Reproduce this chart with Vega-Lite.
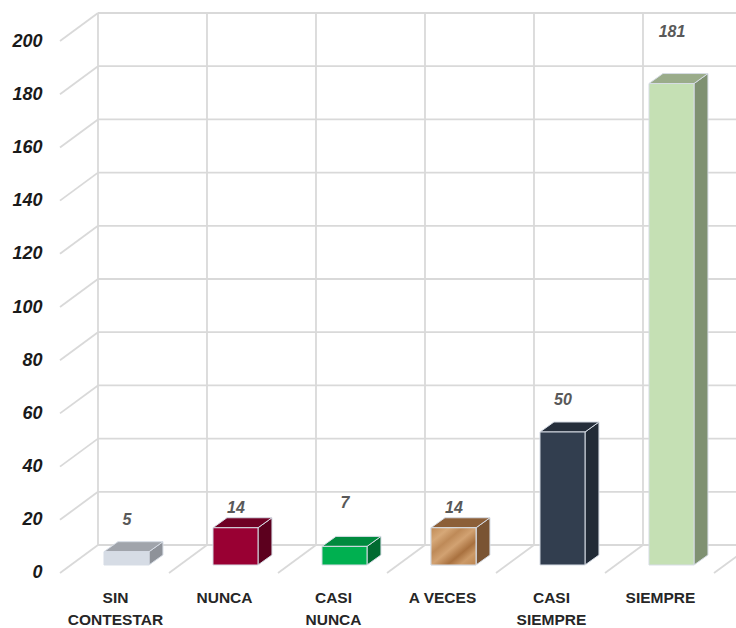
{
"$schema":"https://vega.github.io/schema/vega-lite/v6.json",
"width":736,"height":628,"padding":0,"autosize":{"type":"none"},"background":"#FFFFFF",
"config":{"view":{"stroke":null}},
"datasets":{
"bars":[
{"category":"SIN CONTESTAR","value":5,"idx":0},
{"category":"NUNCA","value":14,"idx":1},
{"category":"CASI NUNCA","value":7,"idx":2},
{"category":"A VECES","value":14,"idx":3},
{"category":"CASI SIEMPRE","value":50,"idx":4},
{"category":"SIEMPRE","value":181,"idx":5}],
"ticks":[{"v":0},{"v":20},{"v":40},{"v":60},{"v":80},{"v":100},{"v":120},{"v":140},{"v":160},{"v":180},{"v":200}],
"cols":[{"i":0},{"i":1},{"i":2},{"i":3},{"i":4},{"i":5},{"i":6}]
},
"encoding":{
"x":{"field":"ax","type":"quantitative","title":null,"scale":{"domain":[-1.05505,5.69725],"nice":false,"zero":false},
"axis":{"orient":"bottom","offset":-38,"values":[0,1,2,3,4,5],"grid":false,"domain":false,"ticks":false,"labelPadding":0,"labelFont":"Liberation Sans","labelFontWeight":"bold","labelFontSize":15.5,"labelColor":"#262626","labelBaseline":"top","labelAlign":"center","labelLineHeight":22.5,"labelOverlap":false,"labelFlush":false,"labelBound":false,
"labelExpr":"[['SIN','CONTESTAR'],['NUNCA'],['CASI','NUNCA'],['A VECES'],['CASI','SIEMPRE'],['SIEMPRE']][datum.value]"}},
"y":{"field":"ay","type":"quantitative","title":null,"stack":null,"scale":{"domain":[-20.677,215.414],"nice":false,"zero":false},
"axis":{"orient":"left","offset":-42,"values":[0,20,40,60,80,100,120,140,160,180,200],"grid":false,"domain":false,"ticks":false,"labelPadding":0,"labelFont":"Liberation Sans","labelFontWeight":"bold","labelFontStyle":"italic","labelFontSize":18,"labelColor":"#1A1A1A","labelAlign":"right","labelBaseline":"middle","labelOverlap":false,"labelFlush":false,"labelBound":false}}
},
"layer":[
{"data":{"name":"ticks"},
"transform":[{"calculate":"-0.5046","as":"ax"},{"calculate":"-0.156","as":"ax2"},{"calculate":"datum.v","as":"ay"},{"calculate":"datum.v+10.526","as":"ay2"}],
"mark":{"type":"rule","stroke":"#D9D9D9","strokeWidth":1.8},
"encoding":{"x2":{"field":"ax2"},"y2":{"field":"ay2"}}},
{"data":{"name":"ticks"},
"transform":[{"calculate":"-0.156","as":"ax"},{"calculate":"5.7","as":"ax2"},{"calculate":"datum.v+10.526","as":"ay"},{"calculate":"datum.v+10.526","as":"ay2"}],
"mark":{"type":"rule","stroke":"#D9D9D9","strokeWidth":1.8},
"encoding":{"x2":{"field":"ax2"},"y2":{"field":"ay2"}}},
{"data":{"name":"cols"},
"transform":[{"calculate":"datum.i-0.156","as":"ax"},{"calculate":"datum.i-0.156","as":"ax2"},{"calculate":"10.526","as":"ay"},{"calculate":"210.526","as":"ay2"}],
"mark":{"type":"rule","stroke":"#D9D9D9","strokeWidth":1.8,"clip":true},
"encoding":{"x2":{"field":"ax2"},"y2":{"field":"ay2"}}},
{"data":{"name":"cols"},
"transform":[{"filter":"datum.i>0"},{"calculate":"datum.i-0.5046","as":"ax"},{"calculate":"datum.i-0.156","as":"ax2"},{"calculate":"0","as":"ay"},{"calculate":"10.526","as":"ay2"}],
"mark":{"type":"rule","stroke":"#D9D9D9","strokeWidth":1.8,"clip":true},
"encoding":{"x2":{"field":"ax2"},"y2":{"field":"ay2"}}},
{"data":{"name":"bars"},
"transform":[{"calculate":"[0,1]","as":"k"},{"flatten":["k"]},
{"calculate":"datum.idx+0.312+datum.k*0.128","as":"ax"},
{"calculate":"3.0075+datum.k*3.76","as":"ay"},
{"calculate":"3.0075+datum.value+datum.k*3.76","as":"ay2"},
{"calculate":"datum.category+'|side'","as":"key"}],
"mark":{"type":"area","stroke":"#D6DCE5","strokeWidth":1,"line":false},
"encoding":{"y2":{"field":"ay2"},"fill":{"field":"key","type":"nominal","legend":null,"scale":{"domain":["SIN CONTESTAR|side","NUNCA|side","CASI NUNCA|side","A VECES|side","CASI SIEMPRE|side","SIEMPRE|side","SIN CONTESTAR|top","NUNCA|top","CASI NUNCA|top","A VECES|top","CASI SIEMPRE|top","SIEMPRE|top","SIN CONTESTAR|front","NUNCA|front","CASI NUNCA|front","A VECES|front","CASI SIEMPRE|front","SIEMPRE|front"],
"range":["#8E9299","#5C001E","#006A30","#7A5433","#222B37","#7F9172","#A0A4AB","#6F0024","#008A3E","#8C5F38","#252E3B","#9AAC8A","#D6DCE5","#990033","#00B050","#C8955F","#323E4F","#C5E0B4"]}}}},
{"data":{"name":"bars"},
"transform":[{"calculate":"[0,1,2,3]","as":"k"},{"flatten":["k"]},
{"calculate":"datum.idx+[-0.101,0.027,0.312,0.44][datum.k]","as":"ax"},
{"calculate":"3.0075+datum.value+[0,0,0,3.76][datum.k]","as":"ay"},
{"calculate":"3.0075+datum.value+[0,3.76,3.76,3.76][datum.k]","as":"ay2"},
{"calculate":"datum.category+'|top'","as":"key"}],
"mark":{"type":"area","stroke":"#D6DCE5","strokeWidth":1},
"encoding":{"y2":{"field":"ay2"},"fill":{"field":"key","type":"nominal","legend":null}}},
{"data":{"name":"bars"},
"transform":[{"calculate":"datum.idx-0.101","as":"ax"},{"calculate":"datum.idx+0.312","as":"ax2"},{"calculate":"3.0075","as":"ay"},{"calculate":"3.0075+datum.value","as":"ay2"},{"calculate":"datum.category+'|front'","as":"key"}],
"mark":{"type":"rect","stroke":"#D6DCE5","strokeWidth":1},
"encoding":{"x2":{"field":"ax2"},"y2":{"field":"ay2"},"fill":{"field":"key","type":"nominal","legend":null}}},
{"data":{"name":"bars"},
"transform":[{"filter":"datum.category==='A VECES'"},{"calculate":"datum.idx-0.101","as":"ax"},{"calculate":"datum.idx+0.312","as":"ax2"},{"calculate":"3.0075","as":"ay"},{"calculate":"3.0075+datum.value","as":"ay2"}],
"mark":{"type":"rect","stroke":"#D6DCE5","strokeWidth":1,"fill":{"gradient":"linear","x1":0,"y1":0,"x2":1,"y2":1,"stops":[{"offset":0,"color":"#C08A55"},{"offset":0.2,"color":"#D6A878"},{"offset":0.35,"color":"#BE8A58"},{"offset":0.5,"color":"#D2A272"},{"offset":0.68,"color":"#A9713F"},{"offset":0.82,"color":"#CC9A68"},{"offset":1,"color":"#BD8752"}]}},
"encoding":{"x2":{"field":"ax2"},"y2":{"field":"ay2"}}},
{"data":{"name":"bars"},
"transform":[{"calculate":"datum.idx","as":"ax"},{"calculate":"({'SIN CONTESTAR':19.9,'NUNCA':24.4,'CASI NUNCA':26.3,'A VECES':24.4,'CASI SIEMPRE':65,'SIEMPRE':203.4})[datum.category]","as":"ay"}],
"mark":{"type":"text","font":"Liberation Sans","fontWeight":"bold","fontStyle":"italic","fontSize":16,"fill":"#595959","dx":12,"align":"center","baseline":"middle"},
"encoding":{"text":{"field":"value","type":"quantitative"}}}
]
}
